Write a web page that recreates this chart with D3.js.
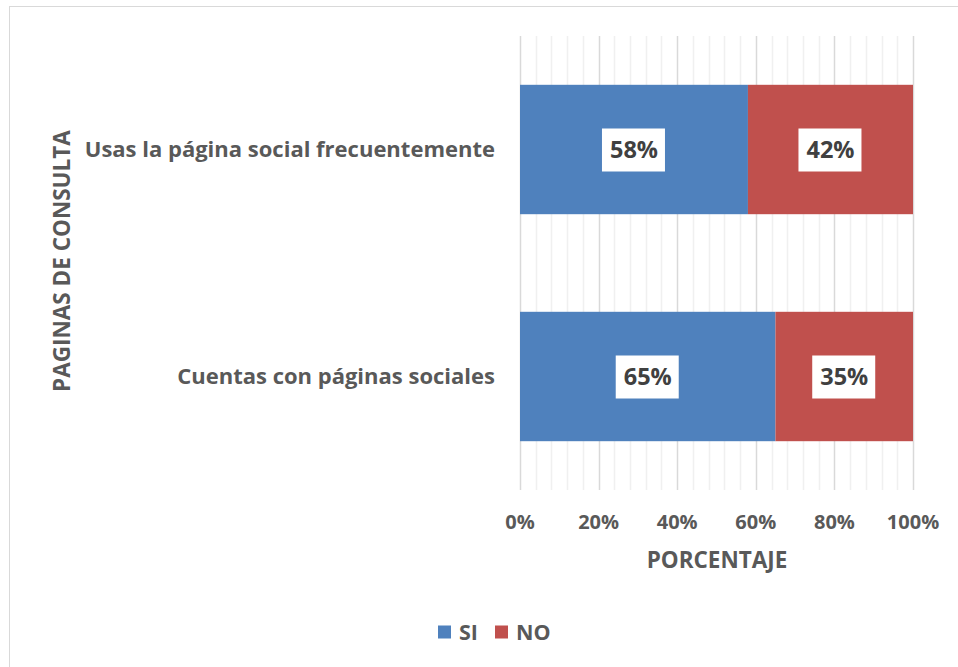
<!DOCTYPE html>
<html>
<head>
<meta charset="utf-8">
<script src="https://cdn.jsdelivr.net/npm/d3@7"></script>
<style>
  body { margin: 0; background: #fff; }
  text { font-family: "Open Sans", sans-serif; font-weight: bold; fill: #595959; }
</style>
</head>
<body>
<svg id="chart" width="958" height="667"></svg>
<script>
// datos de la encuesta
var categories = ['Usas la página social frecuentemente', 'Cuentas con páginas sociales'];
var siValues = [0.58, 0.65];
var noValues = [0.42, 0.35];
var seriesNames = ['SI', 'NO'];
var tickValues = [0, 0.2, 0.4, 0.6, 0.8, 1];

var COLORS = ['#4F81BD', '#C0504D'];
var svg = d3.select('#chart');

// marco del gráfico
svg.append('rect')
   .attr('x', 9.5).attr('y', 6.5)
   .attr('width', 1000).attr('height', 1000)
   .attr('fill', 'none').attr('stroke', '#d9d9d9');

var plotLeft = 520, plotRight = 913, plotTop = 36, plotBottom = 490;

var x = d3.scaleLinear().domain([0, 1]).range([plotLeft, plotRight]);
var y = d3.scaleBand().domain(categories).range([plotTop, plotBottom]).paddingInner(0.43).paddingOuter(0.215);

// líneas de la cuadrícula (menores y mayores)
var minor = d3.range(0, 26).map(d => d * 0.04);
svg.append('g').selectAll('line')
   .data(minor)
   .enter().append('line')
   .attr('x1', d => Math.round(x(d)) + 0.5).attr('x2', d => Math.round(x(d)) + 0.5)
   .attr('y1', plotTop).attr('y2', plotBottom)
   .attr('stroke', d => tickValues.some(t => Math.abs(t - d) < 1e-9) ? '#d9d9d9' : '#f0f0f0')
   .attr('stroke-width', 1.5);

var stacked = categories.map((c, i) => [
  {cat: c, x0: 0, x1: siValues[i], v: siValues[i], s: 0},
  {cat: c, x0: siValues[i], x1: 1, v: noValues[i], s: 1}
]).flat();

svg.append('g').selectAll('rect')
   .data(stacked)
   .enter().append('rect')
   .attr('x', d => x(d.x0))
   .attr('width', d => x(d.x1) - x(d.x0))
   .attr('y', d => y(d.cat))
   .attr('height', y.bandwidth())
   .attr('fill', d => COLORS[d.s]);

// etiquetas de datos con caja blanca
var labels = svg.append('g').selectAll('g')
   .data(stacked)
   .enter().append('g')
   .attr('transform', d => `translate(${x((d.x0 + d.x1) / 2)},${y(d.cat) + y.bandwidth() / 2})`);
labels.append('rect')
   .attr('x', -32).attr('y', -21).attr('width', 63).attr('height', 43)
   .attr('fill', '#fff');
labels.append('text')
   .attr('text-anchor', 'middle').attr('dy', '0.35em')
   .style('font-size', '23.5px').style('fill', '#404040')
   .text(d => Math.round(d.v * 100) + '%');

// categorías
svg.append('g').selectAll('text')
   .data(categories)
   .enter().append('text')
   .attr('x', 495).attr('y', d => y(d) + y.bandwidth() / 2)
   .attr('text-anchor', 'end').attr('dy', '0.35em')
   .style('font-size', '22px')
   .text(d => d);

// eje x
svg.append('g').selectAll('text')
   .data(tickValues)
   .enter().append('text')
   .attr('x', d => x(d)).attr('y', 522)
   .attr('text-anchor', 'middle').attr('dy', '0.35em')
   .style('font-size', '20px')
   .text(d3.format('.0%'));

svg.append('text')
   .attr('x', 717).attr('y', 560).attr('dy', '0.35em')
   .attr('text-anchor', 'middle')
   .style('font-size', '22.5px')
   .text('PORCENTAJE');

svg.append('text')
   .attr('transform', 'translate(62,261) rotate(-90)')
   .attr('text-anchor', 'middle').attr('dy', '0.35em')
   .style('font-size', '22.5px')
   .text('PAGINAS DE CONSULTA');

// leyenda
var legendX = [438, 495];
var legend = svg.append('g').selectAll('g')
   .data(seriesNames)
   .enter().append('g')
   .attr('transform', (d, i) => `translate(${legendX[i]},632)`);
legend.append('rect')
   .attr('x', 0).attr('y', -6.5).attr('width', 13).attr('height', 13)
   .attr('fill', (d, i) => COLORS[i]);
legend.append('text')
   .attr('x', 21).attr('dy', '0.35em')
   .style('font-size', '21.5px')
   .text(d => d);
</script>
</body>
</html>
